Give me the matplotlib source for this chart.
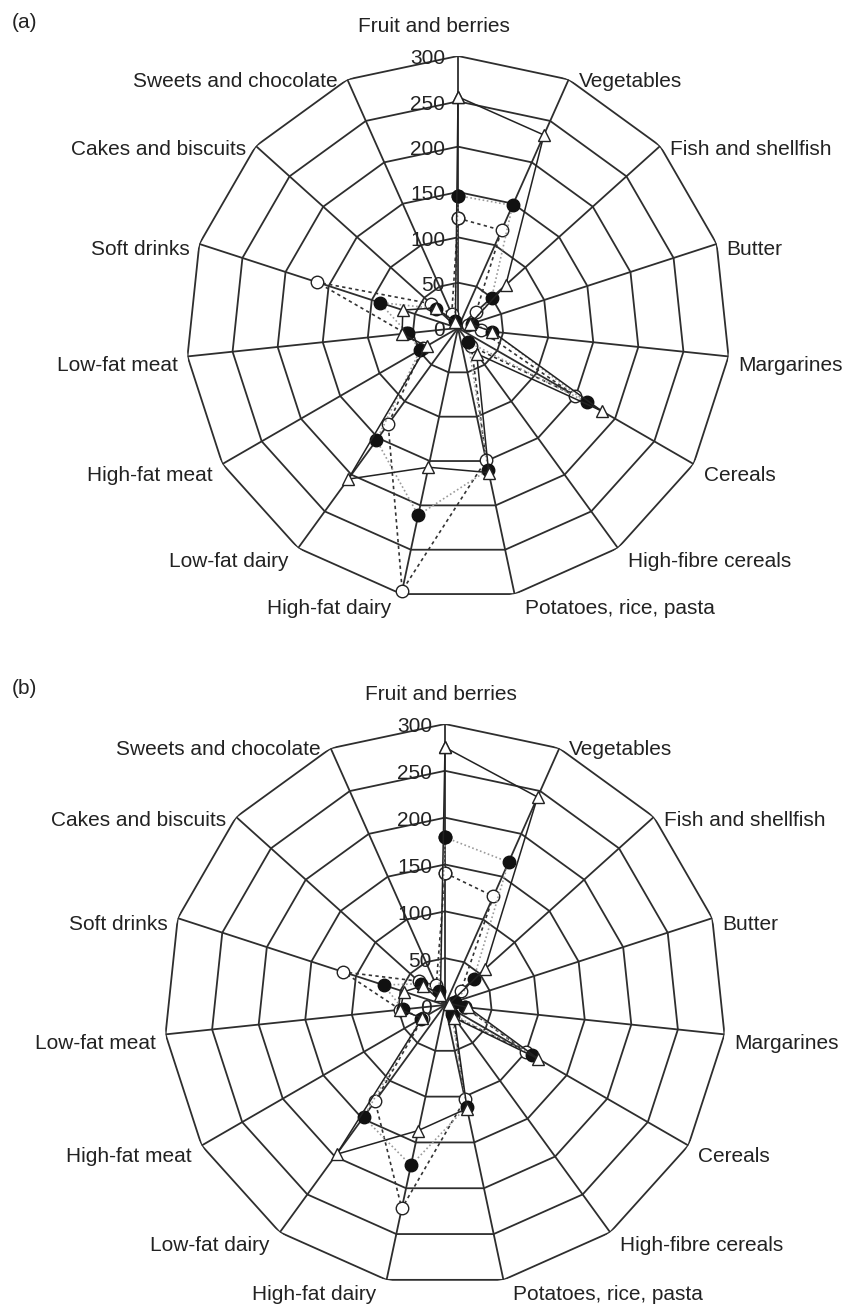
import numpy as np
import matplotlib
matplotlib.use("Agg")
import matplotlib.pyplot as plt

plt.rcParams['font.family'] = ['Liberation Sans', 'DejaVu Sans']

# Food groups, clockwise from the top
categories = ["Fruit and berries", "Vegetables", "Fish and shellfish", "Butter",
              "Margarines", "Cereals", "High-fibre cereals", "Potatoes, rice, pasta",
              "High-fat dairy", "Low-fat dairy", "High-fat meat", "Low-fat meat",
              "Soft drinks", "Cakes and biscuits", "Sweets and chocolate"]
rings = [50, 100, 150, 200, 250, 300]
ring_labels = ["0", "50", "100", "150", "200", "250", "300"]

# Panel (a) values
tri_a = [255, 233, 71, 14, 38, 183, 35, 163, 157, 206, 40, 62, 64, 33, 7]
fill_a = [146, 148, 50, 16, 38, 164, 19, 160, 211, 153, 48, 56, 91, 32, 9]
open_a = [121, 118, 27, 12, 25, 149, 25, 149, 296, 131, 45, 58, 164, 40, 17]

# Panel (b) values
tri_b = [275, 243, 57, 5, 25, 115, 17, 113, 137, 197, 28, 48, 46, 31, 12]
fill_b = [179, 167, 41, 11, 22, 107, 12, 111, 175, 148, 30, 45, 69, 34, 16]
open_b = [141, 127, 23, 8, 21, 100, 15, 103, 222, 127, 27, 48, 114, 38, 23]

n = len(categories)
theta = np.arange(n) * 2 * np.pi / n
theta_c = np.append(theta, theta[0])

grid_col = "#2e2e2e"
text_col = "#222222"


def closed(v):
    return np.append(v, v[0])


def radar(ax, tri, fill, opn, fruit_dx):
    ax.set_theta_zero_location("N")
    ax.set_theta_direction(-1)
    ax.set_ylim(0, 300)
    ax.grid(False)
    ax.spines["polar"].set_visible(False)
    ax.set_xticks([])
    ax.set_yticks([])

    # polygon grid
    for r in rings:
        ax.plot(theta_c, [r] * (n + 1), color=grid_col, lw=1.3, zorder=1)
    for t in theta:
        ax.plot([t, t], [0, 300], color=grid_col, lw=1.3, zorder=1)

    # series
    ax.plot(theta_c, closed(opn), color="#333333", lw=1.2, ls=(0, (2, 2)),
            marker="o", ms=9, mfc="white", mec="#222222", mew=1.0,
            zorder=3, clip_on=False)
    ax.plot(theta_c, closed(fill), color="#9a9a9a", lw=1.2, ls=(0, (1, 1.5)),
            marker="o", ms=9, mfc="#111111", mec="#111111",
            zorder=4, clip_on=False)
    ax.plot(theta_c, closed(tri), color="#222222", lw=1.1, ls="-",
            marker="^", ms=9, mfc="white", mec="#222222", mew=1.0,
            zorder=5, clip_on=False)

    # radial labels along the top spoke
    for i, lab in enumerate(ring_labels):
        ax.annotate(lab, xy=(0, i * 50), xytext=(-13, -3),
                    textcoords="offset pixels", ha="right", va="center",
                    fontsize=15, color=text_col, zorder=6,
                    annotation_clip=False)

    # category labels
    for t, lab in zip(theta, categories):
        s = np.sin(t)
        if abs(s) < 1e-6:
            ax.annotate(lab, xy=(t, 300), xytext=(fruit_dx, 30),
                        textcoords="offset pixels", ha="center", va="center",
                        fontsize=15, color=text_col, annotation_clip=False)
            continue
        dx = 10 if s > 0 else -10
        dy = 7 * np.cos(t) - 8
        ax.annotate(lab, xy=(t, 300), xytext=(dx, dy),
                    textcoords="offset pixels",
                    ha="left" if s > 0 else "right", va="center",
                    fontsize=15, color=text_col, annotation_clip=False)


fig = plt.figure(figsize=(8.49, 13.07), dpi=100)
ax_a = fig.add_axes([(458 - 272) / 849, 1 - (328 + 272) / 1307, 544 / 849, 544 / 1307],
                    projection="polar")
ax_b = fig.add_axes([(445 - 281) / 849, 1 - (1005 + 281) / 1307, 562 / 849, 562 / 1307],
                    projection="polar")

radar(ax_a, tri_a, fill_a, open_a, -24)
radar(ax_b, tri_b, fill_b, open_b, -4)

fig.text(12 / 849, 1 - 22 / 1307, "(a)", fontsize=15, color=text_col,
         ha="left", va="center")
fig.text(12 / 849, 1 - 688 / 1307, "(b)", fontsize=15, color=text_col,
         ha="left", va="center")

fig.savefig("out.png", dpi=100, facecolor="white")
